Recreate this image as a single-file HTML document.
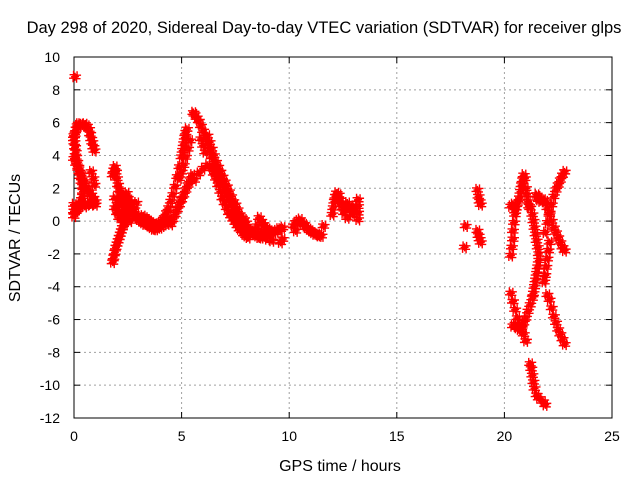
<!DOCTYPE html>
<html><head><meta charset="utf-8"><style>
html,body{margin:0;padding:0;background:#fff;}
svg{display:block;font-family:"Liberation Sans",sans-serif;}
</style></head><body>
<svg id="chart" width="640" height="480" viewBox="0 0 640 480" xmlns="http://www.w3.org/2000/svg">
<rect width="640" height="480" fill="#fff"/>
<g id="grid"></g>
<g id="axes"></g>
<g id="points"></g>
<text x="324" y="33" font-size="16.5" text-anchor="middle" fill="#000">Day 298 of 2020, Sidereal Day-to-day VTEC variation (SDTVAR) for receiver glps</text>
<text x="340" y="471" font-size="16" text-anchor="middle" fill="#000">GPS time / hours</text>
<text transform="translate(20,238) rotate(-90)" font-size="16" text-anchor="middle" fill="#000">SDTVAR / TECUs</text>
</svg>
<script>
const xTicks = [0,5,10,15,20,25];
const yTicks = [-12,-10,-8,-6,-4,-2,0,2,4,6,8,10];
const grpA = [[0.05,8.8],[0,5.0],[0.05,5.3],[0.1,5.6],[0.15,5.8],[0.2,5.9],[0.3,5.9],[0.4,5.8],[0.5,5.9],[0.6,5.8],[0.7,5.6],[0.75,5.3],[0.8,5.0],[0.85,4.8],[0.9,4.5],[0.95,4.3],
[0,5.2],[0.02,4.8],[0.05,4.5],[0.08,4.2],[0.1,3.9],[0.15,3.6],[0.2,3.3],[0.25,3.0],[0.3,2.7],[0.35,2.4],[0.4,2.1],[0.42,1.8],[0.4,1.5],[0.35,1.3],[0.3,1.1],[0.25,0.9],[0.2,0.8],[0.15,0.7],[0.1,0.6],
[0,3.8],[0.1,3.5],[0.2,3.2],[0.3,2.9],[0.4,2.6],[0.5,2.3],[0.6,2.0],[0.7,1.8],[0.8,1.6],[0.9,1.4],[1.0,1.2],
[0.5,0.9],[0.6,1.0],[0.7,1.1],[0.8,1.0],[0.9,1.1],[1.0,1.0],[0,1.0],[0,0.6],[0,0.3],[0.05,0.8],[0.8,3.0],[0.9,2.6],[0.95,2.2]];
const grpB = [[1.8,2.8],[1.85,3.1],[1.9,3.3],[1.95,3.0],[2.0,2.6],[2.05,2.2],[2.1,1.9],[2.15,1.6],[2.2,1.4],[2.3,1.2],
[1.8,-2.5],[1.85,-2.2],[1.9,-1.9],[1.95,-1.6],[2.0,-1.4],[2.05,-1.2],[2.1,-1.0],[2.15,-0.8],[2.2,-0.6],[2.25,-0.4],[2.3,-0.2],[2.35,0],[2.4,0.2],
[2.0,1.0],[2.0,0.5],[2.1,1.2],[2.1,0.6],[2.1,0.2],[2.2,1.0],[2.2,0.4],[2.3,1.3],[2.3,0.7],[2.3,0.1],[2.4,1.1],[2.4,0.5],[2.4,-0.1],[2.5,1.4],[2.5,0.8],[2.5,0.3],[2.6,1.2],[2.6,0.6],[2.6,0.0],[2.7,1.0],[2.7,0.4],[2.8,0.7],[2.8,0.2],[2.9,0.4],[2.9,1.1],[3.0,0.2],[1.9,0.8],[1.9,1.4],[2.2,1.6],[2.45,1.7]];
const grpC = [[3.0,0.1],[3.1,0.0],[3.2,-0.1],[3.3,-0.2],[3.4,-0.2],[3.5,-0.3],[3.6,-0.4],[3.7,-0.5],[3.8,-0.5],[3.9,-0.4],[4.0,-0.4],[4.1,-0.3],[4.2,-0.2],[4.3,-0.1],[4.4,0],
[3.2,0.3],[3.3,0.2],[3.4,0.1],[3.5,0],[3.6,-0.1],[3.7,-0.2],[3.8,-0.3],[3.9,-0.2],[4.0,-0.1],[4.1,0],[4.2,0.1],
[4.2,0.2],[4.3,0.5],[4.4,0.8],[4.5,1.2],[4.6,1.6],[4.7,2.1],[4.8,2.7],[4.9,3.3],[5.0,3.9],[5.05,4.3],[5.1,4.7],[5.15,5.1],[5.2,5.4],[5.25,5.6],
[4.5,-0.2],[4.6,0.1],[4.7,0.4],[4.8,0.7],[4.9,1.0],[5.0,1.3],[5.1,1.6],[5.2,1.9],[5.3,2.2],[5.4,2.5],[5.5,2.8],
[4.9,2.6],[5.0,3.0],[5.1,3.4],[5.2,3.9],[5.3,4.4],[5.4,4.9]];
const grpD = [[5.55,6.6],[5.6,6.5],[5.7,6.3],[5.8,6.1],[5.9,5.8],[6.0,5.5],[6.1,5.1],[6.2,4.7],[6.3,4.3],[6.4,3.9],[6.5,3.5],[6.6,3.1],[6.7,2.8],[6.8,2.5],[6.9,2.2],[7.0,1.9],[7.1,1.6],[7.2,1.3],[7.3,1.0],[7.4,0.7],[7.5,0.5],[7.6,0.3],[7.7,0.1],[7.8,-0.1],[7.9,-0.3],[8.0,-0.4],[8.1,-0.5],[8.2,-0.6],[8.3,-0.7],[8.4,-0.8],[8.5,-0.9],[8.6,-1.0],[8.7,-1.0],[8.8,-0.9],[8.9,-0.9],[9.0,-0.8],
[5.6,2.5],[5.8,2.9],[6.0,3.2],[6.2,3.4],[6.4,3.2],[6.5,2.9],[6.6,2.6],[6.7,2.2],[6.8,1.8],[6.9,1.4],[7.0,1.1],[7.1,0.8],[7.2,0.5],[7.3,0.3],[7.4,0.1],[7.5,-0.1],[7.6,-0.3],[7.7,-0.5],[7.8,-0.6],[7.9,-0.8],[8.0,-0.9],[8.1,-1.0],
[5.9,5.0],[6.0,4.6],[6.1,4.2],[6.2,5.2],[6.3,4.8],[6.4,4.4],[6.5,4.0],[6.6,3.6],[6.7,3.3],[6.8,3.0],[6.9,2.7],[7.0,2.4],[7.1,2.1],[7.2,1.8],[7.3,1.5],[7.4,1.2],[7.5,1.0],[7.6,0.7],[7.7,0.4],[7.8,0.2],[7.9,0.1],[8.0,-0.1]];
const grpE = [[8.5,-0.3],[8.6,0.2],[8.7,0.0],[8.8,-0.2],[8.9,-0.4],[9.0,-0.5],[9.1,-0.6],[9.2,-0.7],[9.3,-0.7],[9.4,-0.6],[9.5,-0.5],[9.6,-0.5],[9.7,-0.4],[8.6,-0.6],[8.8,-0.8],[9.0,-1.1],[9.2,-1.2],[9.6,-1.3],[9.7,-1.1],
[10.2,-0.3],[10.3,-0.1],[10.4,0.0],[10.5,0.1],[10.6,-0.1],[10.7,-0.2],[10.8,-0.4],[10.9,-0.5],[11.0,-0.6],[11.1,-0.7],[11.2,-0.8],[11.3,-0.8],[11.4,-0.9],[11.5,-0.9],[10.3,-0.6],[10.6,-0.2],[11.6,-0.3]];
const grpG = [[12.0,0.4],[12.05,0.8],[12.1,1.2],[12.15,1.5],[12.2,1.7],[12.3,1.6],[12.35,1.3],[12.4,1.0],[12.5,0.8],[12.55,0.5],[12.6,0.9],[12.7,1.1],[12.8,0.8],[12.9,0.6],[12.95,0.4],[13.0,0.9],[13.2,1.3],[13.2,0.9],[13.2,0.5],[13.2,0.1],[12.7,0.2],
[18.2,-0.3],[18.15,-1.6],[18.75,1.9],[18.8,1.5],[18.85,1.2],[18.9,1.0],[18.75,-0.6],[18.8,-0.9],[18.85,-1.1],[18.9,-1.3]];
const grpI = [[20.3,-2.1],[20.35,-1.6],[20.4,-1.1],[20.4,-0.6],[20.45,-0.1],[20.5,0.4],[20.55,0.8],[20.6,1.1],[20.7,1.4],[20.75,1.8],[20.8,2.2],[20.85,2.5],[20.9,2.8],[20.95,2.6],[20.4,1.0],[20.5,0.6],[20.3,0.9],
[21.0,2.0],[21.05,1.6],[21.1,1.2],[21.15,0.9],[21.2,0.8],[21.3,0.4],[21.35,0.0],[21.4,-0.4],[21.45,-0.8],[21.5,-1.2],[21.55,-1.6],[21.6,-2.0],[21.6,-2.4],[21.55,-2.8],[21.5,-3.2],[21.45,-3.6],[21.4,-4.0],[21.35,-4.4],[21.3,-4.7],[21.2,-5.1],[21.1,-5.5],[21.0,-5.9],[20.9,-6.2],[20.8,-6.5],[20.7,-6.6],[20.6,-6.5],[20.5,-6.3],[20.4,-6.4],
[20.3,-4.4],[20.4,-4.9],[20.5,-5.4],[20.6,-5.9],[20.7,-6.3],[20.8,-6.6],[20.9,-6.9],[21.0,-7.3],
[21.5,1.6],[21.55,1.5],[21.6,1.3],[21.7,1.2],[21.8,1.3],[21.9,1.2],[22.0,0.8],[22.1,0.4],[22.2,0.0],[22.3,-0.4],[22.4,-0.7],[22.5,-1.0],[22.6,-1.3],[22.7,-1.6],[22.8,-1.8],
[21.9,-0.7],[22.0,-0.1],[22.1,0.5],[22.2,1.0],[22.3,1.5],[22.4,1.9],[22.5,2.2],[22.6,2.5],[22.7,2.8],[22.8,3.0],
[22.1,-1.3],[22.05,-1.8],[22.0,-2.3],[21.95,-2.8],[21.9,-3.3],[21.85,-3.7],
[22.0,-4.5],[22.1,-4.8],[22.2,-5.3],[22.3,-5.8],[22.4,-6.2],[22.5,-6.6],[22.6,-6.9],[22.7,-7.2],[22.8,-7.5],
[21.2,-8.7],[21.25,-9.0],[21.3,-9.4],[21.35,-9.8],[21.4,-10.2],[21.5,-10.6],[21.6,-10.8],[21.8,-11.0],[21.9,-11.2]];
const groups = [grpA, grpB, grpC, grpD, grpE, grpG, grpI];

const NS = "http://www.w3.org/2000/svg";
const L = 74, R = 612, T = 57, B = 418;
const xMin = 0, xMax = 25, yMin = -12, yMax = 10;
function sx(t){ return L + (t - xMin) / (xMax - xMin) * (R - L); }
function sy(v){ return B - (v - yMin) / (yMax - yMin) * (B - T); }
function mk(tag, attrs, parent){ const e = document.createElementNS(NS, tag); for (const k in attrs) e.setAttribute(k, attrs[k]); parent.appendChild(e); return e; }

const grid = document.getElementById('grid');
const axes = document.getElementById('axes');
const pts = document.getElementById('points');

xTicks.forEach(t => {
  const x = sx(t);
  if (t > xMin && t < xMax) {
    const g = mk('line', {x1:x, y1:T, x2:x, y2:B, stroke:'#a0a0a0', 'stroke-width':1, 'stroke-dasharray':'2,3'}, grid);
    
    
  }
  mk('line', {x1:x, y1:B, x2:x, y2:B-6, stroke:'#000'}, axes);
  mk('line', {x1:x, y1:T, x2:x, y2:T+6, stroke:'#000'}, axes);
  const lb = mk('text', {x:x, y:B+23, 'font-size':14, 'text-anchor':'middle', fill:'#000'}, axes);
  lb.textContent = t;
  
  
});
yTicks.forEach(v => {
  const y = sy(v);
  if (v > yMin && v < yMax) {
    const g = mk('line', {x1:L, y1:y, x2:R, y2:y, stroke:'#a0a0a0', 'stroke-width':1, 'stroke-dasharray':'2,3'}, grid);
    
    
  }
  mk('line', {x1:L, y1:y, x2:L+6, y2:y, stroke:'#000'}, axes);
  mk('line', {x1:R, y1:y, x2:R-6, y2:y, stroke:'#000'}, axes);
  const lb = mk('text', {x:L-14, y:y+5, 'font-size':14, 'text-anchor':'end', fill:'#000'}, axes);
  lb.textContent = v;
  
  
});
const frame = mk('rect', {x:L, y:T, width:R-L, height:B-T, fill:'none', stroke:'#000', 'stroke-width':1}, axes);



const offs = [[0,0],[1.5,2],[-1.5,-2],[2,-1.5],[-2,1.5]];
groups.forEach(g => g.forEach(p => {
  const x = sx(p[0]), y = sy(p[1]);
  let d = '';
  offs.forEach(o => { const cx = x + o[0], cy = y + o[1]; d += `M${cx-4} ${cy}H${cx+4}M${cx} ${cy-4}V${cy+4}`; });
  const m = mk('path', {d:d, stroke:'#ff0000', 'stroke-width':1.4, fill:'none'}, pts);
  
  
}));
</script>
</body></html>
